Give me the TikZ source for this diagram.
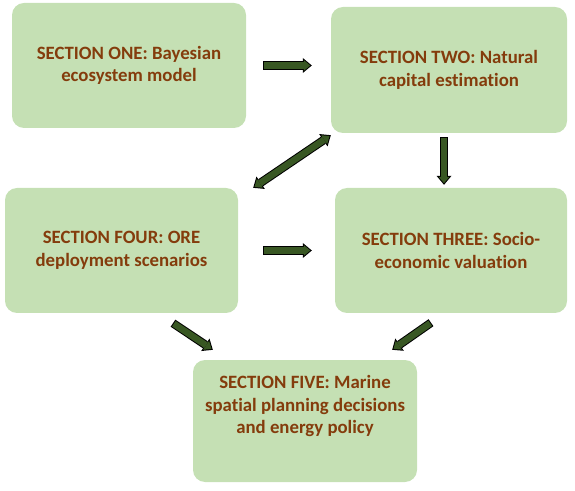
\documentclass[tikz,border=0pt]{standalone}
\usepackage{fontspec}
\setmainfont{Carlito}[Ligatures=NoCommon]
\usetikzlibrary{arrows.meta}
\definecolor{boxgreen}{HTML}{C5E0B4}
\definecolor{arrowgreen}{HTML}{385723}
\definecolor{textbrown}{HTML}{843C0C}

\begin{document}
\begin{tikzpicture}[x=1pt, y=1pt,
	box/.style={fill=boxgreen, rounded corners=12pt, minimum width=#1, minimum height=125pt, inner sep=0pt, text=textbrown, font=\bfseries\fontsize{18.8}{22.5}\selectfont, align=center},
	arrowedge/.style={draw=black, line width=8.5pt, >={Triangle[width=15pt, length=9pt, line width=0pt]}},
	arrowbody/.style={draw=arrowgreen, line width=6.5pt, >={Triangle[width=10.7pt, length=6.4pt, line width=0pt]}, shorten <=1pt, shorten >=1.6pt}]
	\useasboundingbox (0,0) rectangle (575,490);
	\node[box=234] (one) at (129,424.5) {SECTION ONE: Bayesian\\ecosystem model};
	\node[box=236, minimum height=126pt] (two) at (449,420) {SECTION TWO: Natural\\capital estimation};
	\node[box=233] (four) at (121.5,239.5) {SECTION FOUR: ORE\\deployment scenarios};
	\node[box=232] (three) at (451,239.5) {SECTION THREE: Socio-\\economic valuation};
	\node[box=224, minimum height=122pt] (five) at (305,69) {};
	\node[box=0, fill=none] (fivetext) at ([yshift=15]five.center) {SECTION FIVE: Marine\\spatial planning decisions\\and energy policy};
	% arrow ends, kept clear of the boxes
	\coordinate (a12s) at ([xshift=17]one.east);
	\coordinate (a12e) at ([xshift=-19]one.east -| two.west);
	\coordinate (a23s) at ([shift={(-5,-4)}]two.south);
	\coordinate (a23e) at ([yshift=3]a23s |- three.north);
	\coordinate (a43s) at ([xshift=25]four.east);
	\coordinate (a43e) at ([xshift=-23]three.west);
	\coordinate (a45s) at ([shift={(51.5,-10)}]four.south);
	\coordinate (a45e) at ([shift={(20,10)}]five.north west);
	\coordinate (a35s) at ([shift={(-20,-9.5)}]three.south);
	\coordinate (a35e) at ([shift={(-25,10)}]five.north east);
	\coordinate (a42s) at ([xshift=15]four.north east);
	\coordinate (a42e) at ([yshift=-2]two.south west);
	\foreach \s/\e in {a12s/a12e, a23s/a23e, a43s/a43e, a45s/a45e, a35s/a35e} {
		\draw[arrowedge, ->] (\s) -- (\e);
		\draw[arrowbody, ->] (\s) -- (\e);
	}
	\draw[arrowedge, <->] (a42s) -- (a42e);
	\draw[arrowbody, <->, shorten <=1.6pt] (a42s) -- (a42e);
\end{tikzpicture}
\end{document}
